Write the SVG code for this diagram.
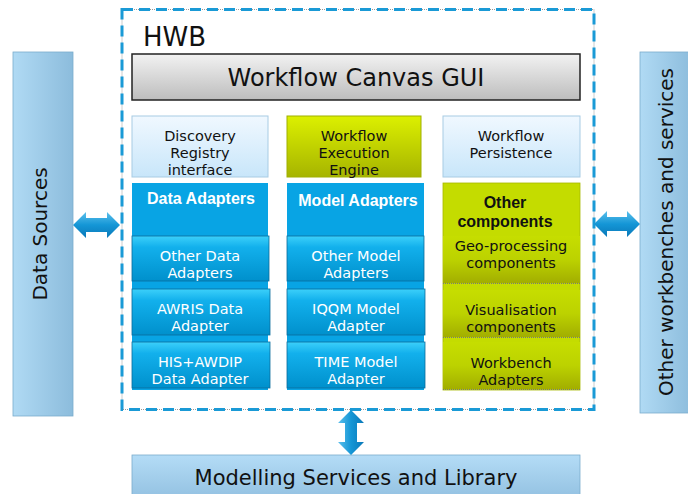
<svg xmlns="http://www.w3.org/2000/svg" width="688" height="494" viewBox="0 0 688 494">
  <defs>
    <linearGradient id="gGray" x1="0" y1="0" x2="0" y2="1">
      <stop offset="0" stop-color="#f2f2f2"/>
      <stop offset="1" stop-color="#bdbdbd"/>
    </linearGradient>
    <linearGradient id="gPale" x1="0" y1="0" x2="0" y2="1">
      <stop offset="0" stop-color="#f0f8ff"/>
      <stop offset="1" stop-color="#c8e6fa"/>
    </linearGradient>
    <linearGradient id="gLime" x1="0" y1="0" x2="0" y2="1">
      <stop offset="0" stop-color="#dcf000"/>
      <stop offset="1" stop-color="#a6b400"/>
    </linearGradient>
    <linearGradient id="gLimeSub" x1="0" y1="0" x2="0" y2="1">
      <stop offset="0" stop-color="#c6de00"/>
      <stop offset="0.5" stop-color="#bcd200"/>
      <stop offset="1" stop-color="#a2ae00"/>
    </linearGradient>
    <linearGradient id="gBlueSub" x1="0" y1="0" x2="0" y2="1">
      <stop offset="0" stop-color="#3cd0fa"/>
      <stop offset="0.25" stop-color="#12b0ec"/>
      <stop offset="1" stop-color="#0090cc"/>
    </linearGradient>
    <linearGradient id="gSide" x1="0" y1="0" x2="1" y2="0">
      <stop offset="0" stop-color="#b0daf4"/>
      <stop offset="1" stop-color="#8cbcdc"/>
    </linearGradient>
    <linearGradient id="gBottom" x1="0" y1="0" x2="0" y2="1">
      <stop offset="0" stop-color="#b4dcf6"/>
      <stop offset="1" stop-color="#94c2e2"/>
    </linearGradient>
    <linearGradient id="gArrowH" x1="0" y1="0" x2="0" y2="1">
      <stop offset="0" stop-color="#5cc0ec"/>
      <stop offset="0.5" stop-color="#1496d6"/>
      <stop offset="1" stop-color="#0a78b8"/>
    </linearGradient>
    <linearGradient id="gArrowV" x1="0" y1="0" x2="1" y2="0">
      <stop offset="0" stop-color="#5cc0ec"/>
      <stop offset="0.5" stop-color="#1496d6"/>
      <stop offset="1" stop-color="#0a78b8"/>
    </linearGradient>
  </defs>
  <style>
    .v { font-family: "DejaVu Sans", Verdana, sans-serif; }
    .b { font-family: "Liberation Sans", Arial, sans-serif; font-weight: bold; font-size: 16px; }
    .dk { fill: #111; }
    .wt { fill: #fff; }
    .sm { font-size: 14.5px; }
    .sub { fill: url(#gBlueSub); stroke: #0a6c9c; stroke-width: 0.8; }
    .lime { fill: url(#gLimeSub); }
    .sep { stroke: #777; stroke-width: 1; stroke-dasharray: 1 1; }
  </style>

  <!-- HWB boundary -->
  <g id="hwb">
    <rect x="122" y="9.5" width="472" height="400" fill="none" stroke="#999" stroke-width="1" stroke-dasharray="1 1"/>
    <rect x="122" y="9.5" width="472" height="400" fill="none" stroke="#1a9ad6" stroke-width="3" stroke-dasharray="11 6"/>
    <text class="v dk" x="143" y="46" font-size="26">HWB</text>
  </g>

  <!-- Workflow Canvas GUI -->
  <g id="canvas-gui">
    <rect x="132" y="54" width="448" height="46" fill="url(#gGray)" stroke="#222" stroke-width="1.5"/>
    <text class="v dk" x="356" y="86" font-size="24" text-anchor="middle">Workflow Canvas GUI</text>
  </g>

  <!-- Discovery Registry interface -->
  <g id="discovery">
    <rect x="132" y="116" width="136" height="61" fill="url(#gPale)" stroke="#a8cce4" stroke-width="1"/>
    <text class="v dk sm" text-anchor="middle" x="200" y="141">Discovery</text>
    <text class="v dk sm" text-anchor="middle" x="200" y="158">Registry</text>
    <text class="v dk sm" text-anchor="middle" x="200" y="175">interface</text>
  </g>

  <!-- Workflow Execution Engine -->
  <g id="execution">
    <rect x="287" y="116" width="134" height="61" fill="url(#gLime)" stroke="#a0b000" stroke-width="1"/>
    <text class="v dk sm" text-anchor="middle" x="354" y="141">Workflow</text>
    <text class="v dk sm" text-anchor="middle" x="354" y="158">Execution</text>
    <text class="v dk sm" text-anchor="middle" x="354" y="175">Engine</text>
  </g>

  <!-- Workflow Persistence -->
  <g id="persistence">
    <rect x="443" y="116" width="137" height="61" fill="url(#gPale)" stroke="#a8cce4" stroke-width="1"/>
    <text class="v dk sm" text-anchor="middle" x="511" y="141">Workflow</text>
    <text class="v dk sm" text-anchor="middle" x="511" y="158">Persistence</text>
  </g>

  <!-- Data Adapters -->
  <g id="data-adapters">
    <rect x="132" y="183" width="136" height="207" fill="#08a4e4"/>
    <text class="b wt" x="201" y="204" text-anchor="middle">Data Adapters</text>
    <rect class="sub" x="132" y="236" width="137" height="45"/>
    <text class="v wt sm" text-anchor="middle" x="200" y="261">Other Data</text>
    <text class="v wt sm" text-anchor="middle" x="200" y="278">Adapters</text>
    <rect class="sub" x="132" y="289" width="138" height="46"/>
    <text class="v wt sm" text-anchor="middle" x="200" y="314">AWRIS Data</text>
    <text class="v wt sm" text-anchor="middle" x="200" y="331">Adapter</text>
    <rect class="sub" x="132" y="342" width="138" height="46"/>
    <text class="v wt sm" text-anchor="middle" x="200" y="367">HIS+AWDIP</text>
    <text class="v wt sm" text-anchor="middle" x="200" y="384">Data Adapter</text>
  </g>

  <!-- Model Adapters -->
  <g id="model-adapters">
    <rect x="287" y="183" width="137" height="207" fill="#08a4e4"/>
    <text class="b wt" x="358" y="206" text-anchor="middle">Model Adapters</text>
    <rect class="sub" x="287" y="236" width="137" height="45"/>
    <text class="v wt sm" text-anchor="middle" x="356" y="261">Other Model</text>
    <text class="v wt sm" text-anchor="middle" x="356" y="278">Adapters</text>
    <rect class="sub" x="287" y="289" width="138" height="46"/>
    <text class="v wt sm" text-anchor="middle" x="356" y="314">IQQM Model</text>
    <text class="v wt sm" text-anchor="middle" x="356" y="331">Adapter</text>
    <rect class="sub" x="287" y="342" width="138" height="46"/>
    <text class="v wt sm" text-anchor="middle" x="356" y="367">TIME Model</text>
    <text class="v wt sm" text-anchor="middle" x="356" y="384">Adapter</text>
  </g>

  <!-- Other components -->
  <g id="other-components">
    <rect x="443" y="183" width="137" height="207" fill="#c4dc00" stroke="#a8b800" stroke-width="0.8"/>
    <text class="b dk" x="505" y="208" text-anchor="middle" font-size="16.5">Other</text>
    <text class="b dk" x="505" y="227" text-anchor="middle" font-size="16.5">components</text>
    <rect class="lime" x="443" y="236" width="137" height="47"/>
    <text class="v dk sm" text-anchor="middle" x="511" y="251">Geo-processing</text>
    <text class="v dk sm" text-anchor="middle" x="511" y="268">components</text>
    <line class="sep" x1="443" y1="283.5" x2="580" y2="283.5"/>
    <rect class="lime" x="443" y="290" width="137" height="47"/>
    <text class="v dk sm" text-anchor="middle" x="511" y="315">Visualisation</text>
    <text class="v dk sm" text-anchor="middle" x="511" y="332">components</text>
    <line class="sep" x1="443" y1="337.5" x2="580" y2="337.5"/>
    <rect class="lime" x="443" y="342" width="137" height="47"/>
    <text class="v dk sm" text-anchor="middle" x="511" y="368">Workbench</text>
    <text class="v dk sm" text-anchor="middle" x="511" y="385">Adapters</text>
    <line class="sep" x1="443" y1="389.5" x2="580" y2="389.5"/>
  </g>

  <!-- Data Sources -->
  <g id="data-sources">
    <rect x="13" y="52" width="60" height="364" fill="url(#gSide)" stroke="#7aaccc" stroke-width="0.8"/>
    <text class="v dk" font-size="20" text-anchor="middle" transform="translate(47 234) rotate(-90)">Data Sources</text>
  </g>

  <!-- Other workbenches and services -->
  <g id="other-workbenches">
    <rect x="640" y="52" width="52" height="361" fill="url(#gSide)" stroke="#7aaccc" stroke-width="0.8"/>
    <text class="v dk" font-size="20" text-anchor="middle" transform="translate(673 232) rotate(-90)">Other workbenches and services</text>
  </g>

  <!-- Modelling Services and Library -->
  <g id="modelling-services">
    <rect x="132" y="455" width="448" height="42" fill="url(#gBottom)" stroke="#7aaccc" stroke-width="0.8"/>
    <text class="v dk" x="356" y="485" font-size="21" text-anchor="middle">Modelling Services and Library</text>
  </g>

  <!-- connectors -->
  <g id="connectors">
    <path d="M73 225 L86 212 L86 218 L107 218 L107 212 L120 225 L107 238 L107 232 L86 232 L86 238 Z" fill="url(#gArrowH)"/>
    <path d="M594 224 L607 211 L607 217 L627 217 L627 211 L640 224 L627 237 L627 231 L607 231 L607 237 Z" fill="url(#gArrowH)"/>
    <path d="M351 410 L364 423 L357 423 L357 442 L364 442 L351 455 L338 442 L345 442 L345 423 L338 423 Z" fill="url(#gArrowV)"/>
  </g>
</svg>
